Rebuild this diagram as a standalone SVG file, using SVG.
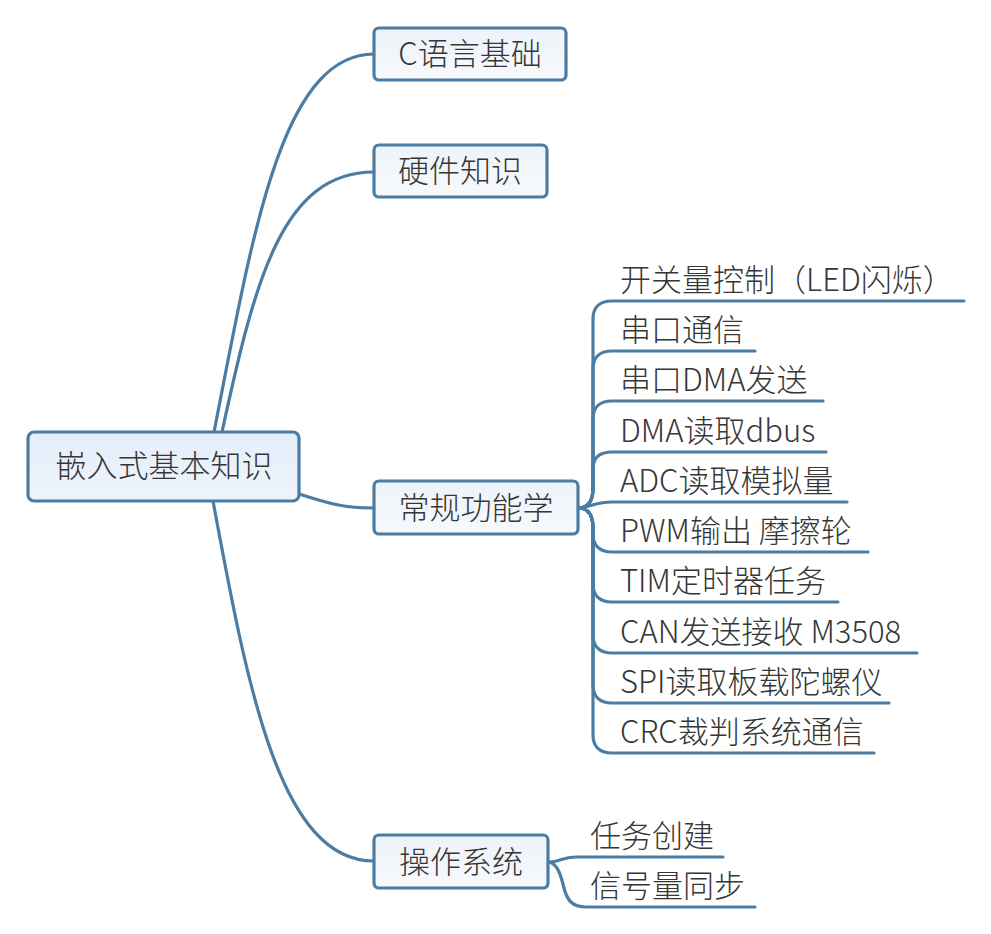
<svg xmlns="http://www.w3.org/2000/svg" width="991" height="934" viewBox="0 0 991 934">
<defs>
<linearGradient id="rootFill" x1="0" y1="0" x2="0" y2="1">
<stop offset="0" stop-color="#e4eefa"/>
<stop offset="1" stop-color="#eef4fb"/>
</linearGradient>
<linearGradient id="boxFill" x1="0" y1="0" x2="0" y2="1">
<stop offset="0" stop-color="#edf3fa"/>
<stop offset="1" stop-color="#f7f9fc"/>
</linearGradient>
</defs>
<style>
.box{stroke:#4b7da4;stroke-width:3.2;}
.root{fill:url(#rootFill);}
.main{fill:url(#boxFill);}
.t{font-family:"Noto Sans CJK SC","Noto Sans",sans-serif;font-size:31px;font-weight:300;fill:#363636;}
.c{text-anchor:middle;}
.ln{fill:none;stroke:#4b7da4;stroke-width:3.2;stroke-linecap:round;stroke-linejoin:round;}
</style>
<rect width="991" height="934" fill="#ffffff"/>
<g id="connectors">
<path class="ln" d="M214,432 C252,240 280,54 374,54"/>
<path class="ln" d="M222,432 C255,280 282,172 374,172"/>
<path class="ln" d="M299,494 C330,504 345,508 374,508"/>
<path class="ln" d="M213,501 C248,690 280,861 374,861"/>
<path class="ln" d="M580,508 C590,507 593,498 593,488 V319 C593,308 599,301 612,301 H964"/>
<path class="ln" d="M580,508 C590,507 593,498 593,488 V369 C593,358 599,351 612,351 H755"/>
<path class="ln" d="M580,508 C590,507 593,498 593,488 V419 C593,408 599,401 612,401 H823"/>
<path class="ln" d="M580,508 C590,507 593,498 593,488 V469 C593,458 599,452 612,452 H826"/>
<path class="ln" d="M580,508 C592,506 598,502 612,502 H847"/>
<path class="ln" d="M580,508 C590,509 593,518 593,528 V534 C593,545 599,552 612,552 H868"/>
<path class="ln" d="M580,508 C590,509 593,518 593,528 V584 C593,595 599,602 612,602 H838"/>
<path class="ln" d="M580,508 C590,509 593,518 593,528 V635 C593,646 599,653 612,653 H917"/>
<path class="ln" d="M580,508 C590,509 593,518 593,528 V685 C593,696 599,703 612,703 H889"/>
<path class="ln" d="M580,508 C590,509 593,518 593,528 V735 C593,746 599,753 612,753 H874"/>
<path class="ln" d="M549,862 C560,862 562,857 576,857 H723"/>
<path class="ln" d="M549,862 C558,864 561,876 564,888 C567,900 572,907 586,907 H755"/>
</g>
<g id="root">
<rect class="box root" x="28" y="432" width="271" height="69" rx="6"/>
<text class="t c" x="164" y="477">嵌入式基本知识</text>
</g>
<g id="n-c">
<rect class="box main" x="374" y="28" width="192" height="52" rx="5"/>
<text class="t c" x="470" y="65">C语言基础</text>
</g>
<g id="n-hw">
<rect class="box main" x="374" y="145" width="173" height="52" rx="5"/>
<text class="t c" x="460" y="182">硬件知识</text>
</g>
<g id="n-func">
<rect class="box main" x="374" y="481" width="204" height="53" rx="5"/>
<text class="t c" x="476" y="519">常规功能学</text>
</g>
<g id="n-os">
<rect class="box main" x="374" y="835" width="174" height="53" rx="5"/>
<text class="t c" x="461" y="873">操作系统</text>
</g>
<g id="f1"><text class="t" x="620" y="291">开关量控制（LED闪烁）</text></g>
<g id="f2"><text class="t" x="620" y="341">串口通信</text></g>
<g id="f3"><text class="t" x="620" y="391">串口DMA发送</text></g>
<g id="f4"><text class="t" x="620" y="442">DMA读取dbus</text></g>
<g id="f5"><text class="t" x="620" y="492">ADC读取模拟量</text></g>
<g id="f6"><text class="t" x="620" y="542">PWM输出 摩擦轮</text></g>
<g id="f7"><text class="t" x="620" y="592">TIM定时器任务</text></g>
<g id="f8"><text class="t" x="620" y="643">CAN发送接收 M3508</text></g>
<g id="f9"><text class="t" x="620" y="693">SPI读取板载陀螺仪</text></g>
<g id="f10"><text class="t" x="620" y="743">CRC裁判系统通信</text></g>
<g id="o1"><text class="t" x="590" y="847">任务创建</text></g>
<g id="o2"><text class="t" x="590" y="897">信号量同步</text></g>
</svg>
